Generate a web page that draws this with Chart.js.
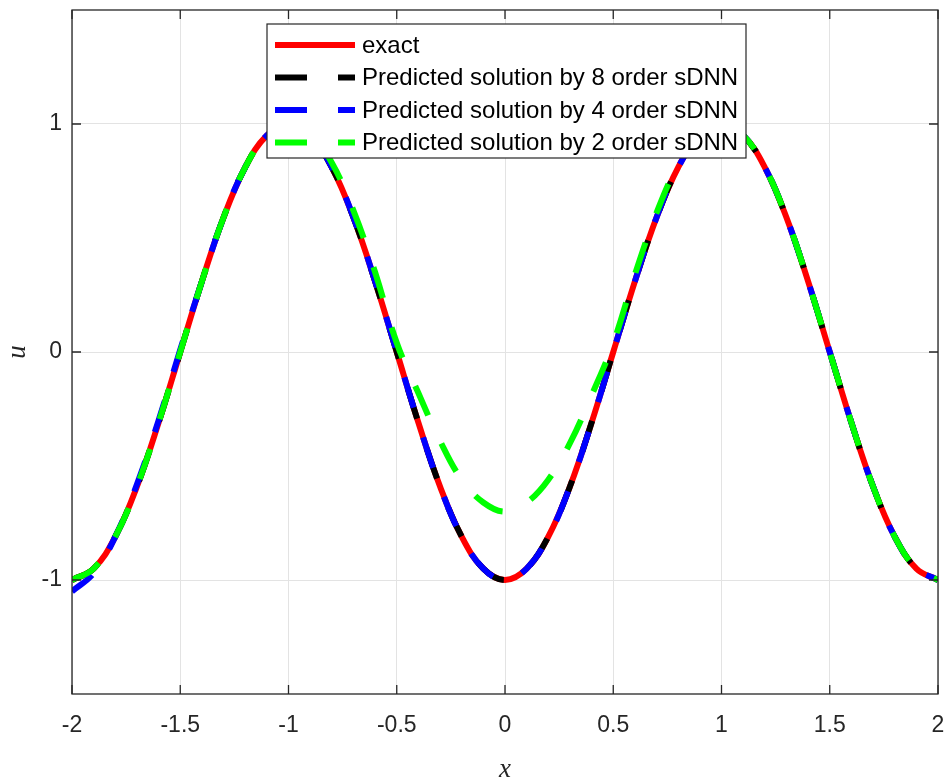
<!DOCTYPE html>
<html>
<head>
<meta charset="utf-8">
<script src="https://cdn.jsdelivr.net/npm/chart.js@4/dist/chart.umd.min.js"></script>
<style>
  html, body { margin: 0; padding: 0; background: #fff; }
</style>
</head>
<body>
<canvas id="solutionChart" width="952" height="780"></canvas>
<script>
const xs = [-2, -1.9, -1.8, -1.7, -1.6, -1.5, -1.4, -1.3, -1.2, -1.1, -1,
            -0.9, -0.8, -0.7, -0.6, -0.5, -0.4, -0.3, -0.2, -0.1, 0,
            0.1, 0.2, 0.3, 0.4, 0.5, 0.6, 0.7, 0.8, 0.9, 1,
            1.1, 1.2, 1.3, 1.4, 1.5, 1.6, 1.7, 1.8, 1.9, 2];

// exact solution
const exactU = [-1, -0.95, -0.81, -0.59, -0.31, 0, 0.31, 0.59, 0.81, 0.95, 1,
                0.95, 0.81, 0.59, 0.31, 0, -0.31, -0.59, -0.81, -0.95, -1,
                -0.95, -0.81, -0.59, -0.31, 0, 0.31, 0.59, 0.81, 0.95, 1,
                0.95, 0.81, 0.59, 0.31, 0, -0.31, -0.59, -0.81, -0.95, -1];

// 8 order sDNN (sits on the exact curve)
const order8U = [-1, -0.95, -0.81, -0.59, -0.31, 0, 0.31, 0.59, 0.81, 0.95, 1,
                 0.95, 0.81, 0.59, 0.31, 0, -0.31, -0.59, -0.81, -0.95, -1,
                 -0.95, -0.81, -0.59, -0.31, 0, 0.31, 0.59, 0.81, 0.95, 1,
                 0.95, 0.81, 0.59, 0.31, 0, -0.31, -0.59, -0.81, -0.95, -1];

// 4 order sDNN (dips a little below -1 at the left end)
const order4U = [-1.05, -0.97, -0.81, -0.58, -0.30, 0.01, 0.31, 0.59, 0.81, 0.95, 1,
                 0.95, 0.81, 0.59, 0.31, 0, -0.31, -0.59, -0.81, -0.95, -1,
                 -0.95, -0.81, -0.59, -0.31, 0, 0.31, 0.59, 0.81, 0.95, 1,
                 0.95, 0.81, 0.59, 0.31, 0, -0.31, -0.59, -0.81, -0.95, -1];

// 2 order sDNN (shallow minimum around x = 0)
const order2U = [-1, -0.95, -0.81, -0.59, -0.31, 0, 0.31, 0.59, 0.81, 0.95, 1,
                 0.96, 0.83, 0.62, 0.35, 0.04, -0.18, -0.39, -0.56, -0.66, -0.70,
                 -0.66, -0.56, -0.40, -0.19, 0.04, 0.34, 0.61, 0.82, 0.95, 1,
                 0.95, 0.81, 0.59, 0.31, 0, -0.31, -0.59, -0.81, -0.95, -1];

// tick values shown on the axes
const xTicks = [-2, -1.5, -1, -0.5, 0, 0.5, 1, 1.5, 2];
const yTicks = [-1, 0, 1];

// legend texts
const seriesNames = ['exact',
                     'Predicted solution by 8 order sDNN',
                     'Predicted solution by 4 order sDNN',
                     'Predicted solution by 2 order sDNN'];

// turn a value list into {x, y} points
function toPoints(values) {
    return xs.map((x, i) => ({ x: x, y: values[i] }));
}

const axisColor = '#262626';
const dashPattern = [32, 31];

// box around the plot with inward tick marks on all four sides
const boxPlugin = {
    id: 'boxPlugin',
    afterDatasetsDraw(chart) {
        const { ctx, chartArea: a, scales } = chart;
        const len = 9;
        ctx.save();
        ctx.strokeStyle = axisColor;
        ctx.lineWidth = 1.3;
        ctx.strokeRect(a.left, a.top, a.right - a.left, a.bottom - a.top);
        ctx.beginPath();
        xTicks.forEach(v => {
            const px = scales.x.getPixelForValue(v);
            ctx.moveTo(px, a.bottom); ctx.lineTo(px, a.bottom - len);
            ctx.moveTo(px, a.top); ctx.lineTo(px, a.top + len);
        });
        yTicks.forEach(v => {
            const py = scales.y.getPixelForValue(v);
            ctx.moveTo(a.left, py); ctx.lineTo(a.left + len, py);
            ctx.moveTo(a.right, py); ctx.lineTo(a.right - len, py);
        });
        ctx.stroke();
        ctx.restore();
    }
};

// legend drawn inside the plot, near the top
const legendPlugin = {
    id: 'legendPlugin',
    afterDraw(chart) {
        const ctx = chart.ctx;
        const box = { x: 267, y: 24, w: 479, h: 134 };
        ctx.save();
        ctx.fillStyle = '#fff';
        ctx.fillRect(box.x, box.y, box.w, box.h);
        ctx.strokeStyle = axisColor;
        ctx.lineWidth = 1.2;
        ctx.strokeRect(box.x, box.y, box.w, box.h);

        // same order as the datasets
        chart.data.datasets.forEach((ds, i) => {
            const rowY = box.y + 21 + i * 32.5;
            ctx.beginPath();
            ctx.strokeStyle = ds.borderColor;
            ctx.lineWidth = ds.borderWidth;
            ctx.lineCap = 'butt';
            ctx.setLineDash(ds.borderDash || []);
            ctx.lineDashOffset = 0;
            ctx.moveTo(box.x + 8, rowY);
            ctx.lineTo(box.x + 88, rowY);
            ctx.stroke();
            ctx.setLineDash([]);
            ctx.fillStyle = '#000';
            ctx.font = '24px "Liberation Sans", Arial, sans-serif';
            ctx.textBaseline = 'middle';
            ctx.textAlign = 'left';
            ctx.fillText(ds.label, box.x + 95, rowY + 1);
        });
        ctx.restore();
    }
};

new Chart(document.getElementById('solutionChart'), {
    type: 'line',
    data: {
        datasets: [
            {
                label: seriesNames[0],
                data: toPoints(exactU),
                borderColor: '#ff0000',
                borderWidth: 6,
                order: 4
            },
            {
                label: seriesNames[1],
                data: toPoints(order8U),
                borderColor: '#000000',
                borderWidth: 6,
                borderDash: dashPattern,
                borderDashOffset: 2,
                order: 3
            },
            {
                label: seriesNames[2],
                data: toPoints(order4U),
                borderColor: '#0000ff',
                borderWidth: 6,
                borderDash: dashPattern,
                borderDashOffset: 6,
                order: 2
            },
            {
                label: seriesNames[3],
                data: toPoints(order2U),
                borderColor: '#00ff00',
                borderWidth: 6,
                borderDash: dashPattern,
                borderDashOffset: 0,
                order: 1
            }
        ]
    },
    options: {
        responsive: false,
        animation: false,
        devicePixelRatio: 1,
        layout: { padding: { top: 10, right: 14, left: 0, bottom: 0 } },
        elements: {
            point: { radius: 0 },
            line: { tension: 0.4, borderCapStyle: 'butt', fill: false }
        },
        plugins: {
            legend: { display: false },
            tooltip: { enabled: false }
        },
        scales: {
            x: {
                type: 'linear',
                min: -2,
                max: 2,
                afterBuildTicks: s => { s.ticks = xTicks.map(v => ({ value: v })); },
                // fixed height, and no extra room for the end labels
                afterFit: s => { s.height = 86; s.paddingLeft = 0; s.paddingRight = 0; },
                grid: { color: '#e3e3e3', lineWidth: 1, drawTicks: false },
                border: { display: false },
                ticks: {
                    padding: 18,
                    color: axisColor,
                    font: { family: '"Liberation Sans", Arial, sans-serif', size: 23 },
                    maxRotation: 0,
                    callback: v => String(v)
                },
                title: {
                    display: true,
                    text: 'x',
                    color: axisColor,
                    font: { family: '"Liberation Serif", "Times New Roman", serif', style: 'italic', size: 27 },
                    padding: { top: 0, bottom: -6 }
                }
            },
            y: {
                type: 'linear',
                min: -1.5,
                max: 1.5,
                afterBuildTicks: s => { s.ticks = yTicks.map(v => ({ value: v })); },
                afterFit: s => { s.width = 72; s.paddingTop = 0; s.paddingBottom = 0; },
                grid: { color: '#e3e3e3', lineWidth: 1, drawTicks: false },
                border: { display: false },
                ticks: {
                    padding: 10,
                    color: axisColor,
                    font: { family: '"Liberation Sans", Arial, sans-serif', size: 23 },
                    callback: v => String(v)
                },
                title: {
                    display: true,
                    text: 'u',
                    color: axisColor,
                    font: { family: '"Liberation Serif", "Times New Roman", serif', style: 'italic', size: 27 },
                    padding: { top: 2, bottom: 0 }
                }
            }
        }
    },
    plugins: [boxPlugin, legendPlugin]
});
</script>
</body>
</html>
